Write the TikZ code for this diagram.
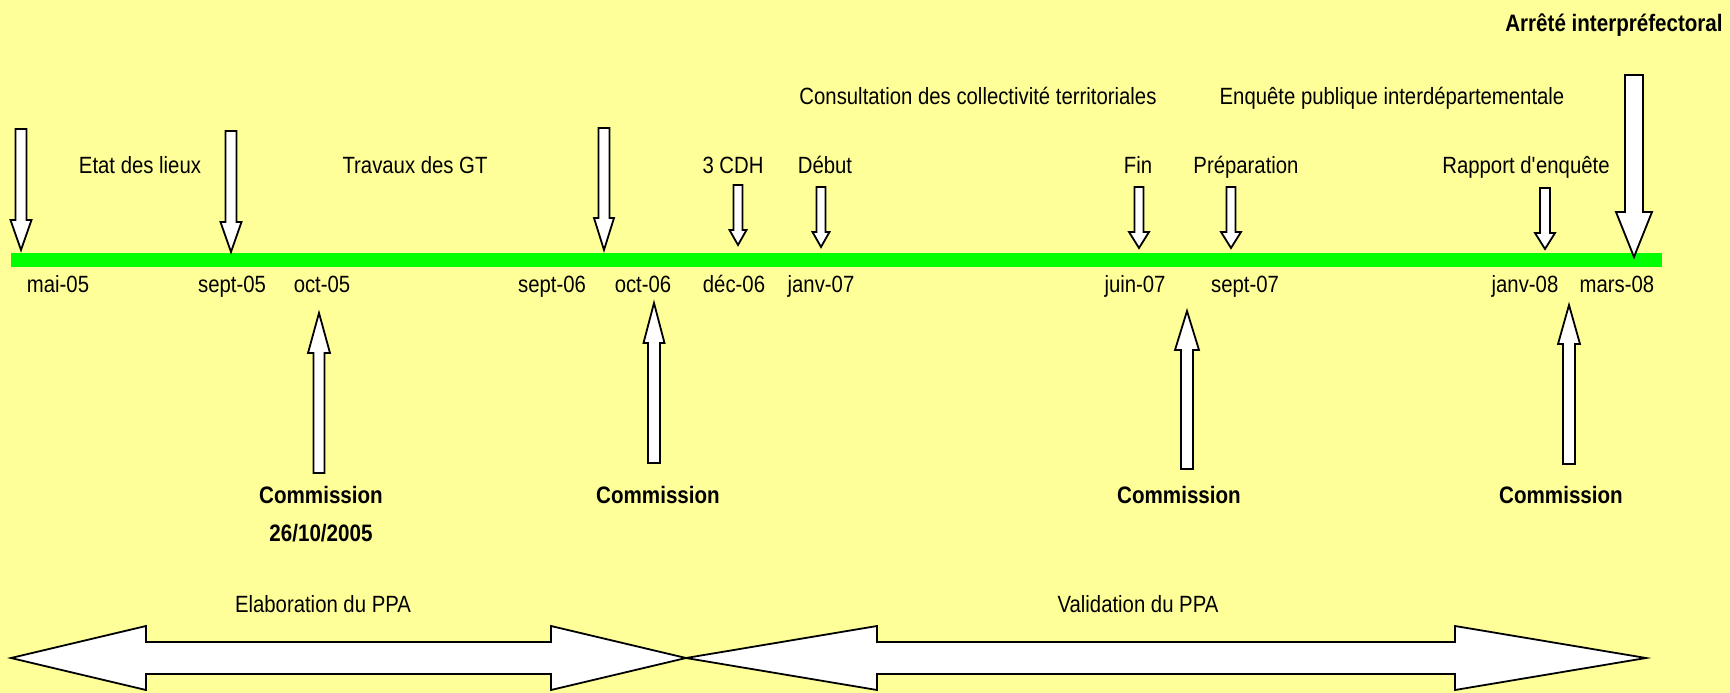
\documentclass[tikz,border=0pt]{standalone}
\usepackage{fontspec}
\setmainfont[FakeStretch=0.865]{Liberation Sans}
\definecolor{bgyellow}{RGB}{255,255,153}
\definecolor{bargreen}{RGB}{0,255,0}
\tikzset{
  lbl/.style={anchor=base, inner sep=0pt, font=\fontsize{23.5}{28}\selectfont},
  blbl/.style={anchor=base, inner sep=0pt, font=\fontsize{23.8}{28}\selectfont\bfseries},
  hollow/.style={draw=black, fill=white, line width=1.8pt, line join=miter},
}
% block arrow: cx, base end y, head-base y, tip y, shaft half width, head half width
\newcommand{\BlockArrowShape}[6]{%
  \draw[hollow] (#1-#5,#2) -- (#1+#5,#2) -- (#1+#5,#3) -- (#1+#6,#3) -- (#1,#4)
    -- (#1-#6,#3) -- (#1-#5,#3) -- cycle;}
% double arrow: left tip x, left base x, right base x, right tip x, centre y
\newcommand{\DoubleArrowShape}[5]{%
  \draw[hollow] (#1,#5) -- (#2,#5-32) -- (#2,#5-16) -- (#3,#5-16) -- (#3,#5-32)
    -- (#4,#5) -- (#3,#5+32) -- (#3,#5+16) -- (#2,#5+16) -- (#2,#5+32) -- cycle;}
\begin{document}
\begin{tikzpicture}[x=1pt,y=-1pt]
\fill[bgyellow] (0,0) rectangle (1730,693);
\useasboundingbox (0,0) rectangle (1730,693);

% timeline bar
\fill[bargreen] (11,253) rectangle (1662,267);

% down arrows
\BlockArrowShape{21}{129}{220}{250}{5.5}{10.5}
\BlockArrowShape{231}{131}{222}{252}{5.5}{10.5}
\BlockArrowShape{604}{128}{218}{250}{5.5}{10}
\BlockArrowShape{738}{185}{230}{245}{4.5}{8.5}
\BlockArrowShape{821}{187}{232}{247}{4.5}{8.5}
\BlockArrowShape{1139}{187}{232}{248}{4.5}{10}
\BlockArrowShape{1231}{187}{232}{248}{4.5}{10}
\BlockArrowShape{1545}{188}{233}{249}{5}{10}
\BlockArrowShape{1634}{75}{212}{257}{9}{18}

% up arrows
\BlockArrowShape{319}{473}{353}{313}{5.5}{11}
\BlockArrowShape{654}{463}{343}{303}{6}{10.5}
\BlockArrowShape{1187}{469}{350}{311}{6}{12}
\BlockArrowShape{1569}{464}{344}{305}{6}{11}

% double arrows
\DoubleArrowShape{11}{146}{551}{686}{658}
\DoubleArrowShape{686}{877}{1455}{1646}{658}

% top labels
\node[blbl] (arrete) at (1614,32) {Arrêté interpréfectoral};
\node[lbl] (consult) at (978,104) {Consultation des collectivité territoriales};
\node[lbl] (enquete) at (1392,104) {Enquête publique interdépartementale};

\node[lbl] (etat) at (140,173) {Etat des lieux};
\node[lbl] (travaux) at (415,173) {Travaux des GT};
\node[lbl] (cdh) at (733,173) {3 CDH};
\node[lbl] (debut) at (825,173) {Début};
\node[lbl] (fin) at (1138,173) {Fin};
\node[lbl] (prep) at (1246,173) {Préparation};
\node[lbl] (rapport) at (1526,173) {Rapport d\textquotesingle enquête};

% dates
\node[lbl] (d1) at (58,292) {mai-05};
\node[lbl] (d2) at (232,292) {sept-05};
\node[lbl] (d3) at (322,292) {oct-05};
\node[lbl] (d4) at (552,292) {sept-06};
\node[lbl] (d5) at (643,292) {oct-06};
\node[lbl] (d6) at (734,292) {déc-06};
\node[lbl] (d7) at (821,292) {janv-07};
\node[lbl] (d8) at (1135,292) {juin-07};
\node[lbl] (d9) at (1245,292) {sept-07};
\node[lbl] (d10) at (1525,292) {janv-08};
\node[lbl] (d11) at (1617,292) {mars-08};

% commissions
\node[blbl] (c1) at (321,503) {Commission};
\node[blbl] (c1d) at (321,541) {26/10/2005};
\node[blbl] (c2) at (658,503) {Commission};
\node[blbl] (c3) at (1179,503) {Commission};
\node[blbl] (c4) at (1561,503) {Commission};

% phases
\node[lbl] (elab) at (323,612) {Elaboration du PPA};
\node[lbl] (valid) at (1138,612) {Validation du PPA};
\end{tikzpicture}
\end{document}
